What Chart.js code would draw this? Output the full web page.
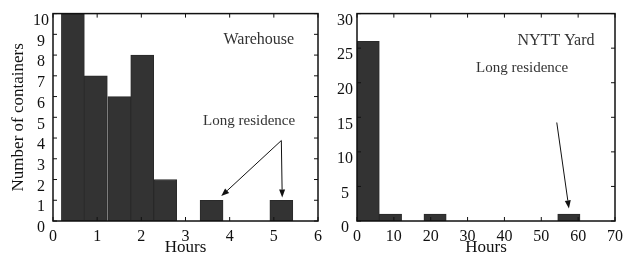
<!DOCTYPE html>
<html>
<head>
<meta charset="utf-8">
<script src="https://cdn.jsdelivr.net/npm/chart.js@4"></script>
<style>
html, body { margin: 0; padding: 0; background: #fff; }
#wrap { position: relative; width: 629px; height: 256px; }
#warehouse { position: absolute; left: 0; top: 0; }
#yard { position: absolute; left: 328px; top: 0; }
</style>
</head>
<body>
<div id="wrap">
<canvas id="warehouse" width="328" height="256"></canvas>
<canvas id="yard" width="301" height="256"></canvas>
</div>
<script>
// histogram bin centres (hours) and counts
const warehouseHours = [0.45, 0.97, 1.50, 2.02, 2.54, 3.07, 3.59, 4.12, 4.64, 5.17];
const warehouseCounts = [10, 7, 6, 8, 2, 0, 1, 0, 0, 1];
const yardHours = [3.03, 9.08, 15.13, 21.18, 27.23, 33.28, 39.33, 45.38, 51.43, 57.48];
const yardCounts = [26, 1, 0, 1, 0, 0, 0, 0, 0, 1];

const FONT = 'Liberation Serif, Times New Roman, serif';
const BAR_FILL = '#333333';
const BAR_EDGE = '#2a2a2a';

// in-plot labels and arrows, in data units
const warehouseNotes = [
    { text: 'Warehouse', x: 4.66, y: 8.76 },
    { text: 'Long residence', x: 4.44, y: 4.83 },
];
const warehouseArrows = [
    { from: [5.17, 3.88], to: [3.81, 1.20] },
    { from: [5.17, 3.88], to: [5.19, 1.13] },
];
const yardNotes = [
    { text: 'NYTT Yard', x: 54.0, y: 26.1 },
    { text: 'Long residence', x: 44.8, y: 22.1 },
];
const yardArrows = [
    { from: [54.2, 14.25], to: [57.5, 1.82] },
];

function line(ctx, x1, y1, x2, y2) {
    ctx.beginPath();
    ctx.moveTo(x1, y1);
    ctx.lineTo(x2, y2);
    ctx.stroke();
}

const framePlugin = {
    id: 'frame',
    afterDatasetsDraw(chart, args, opts) {
        const { ctx, chartArea: a, scales: { x, y } } = chart;
        ctx.save();
        ctx.strokeStyle = '#111';
        ctx.lineWidth = 1.5;
        ctx.strokeRect(a.left, a.top, a.right - a.left, a.bottom - a.top);

        // inward ticks on all four sides
        ctx.lineWidth = 1;
        x.ticks.forEach(t => {
            const px = x.getPixelForValue(t.value);
            line(ctx, px, a.bottom, px, a.bottom - 4);
            line(ctx, px, a.top, px, a.top + 4);
        });
        y.ticks.forEach(t => {
            const py = y.getPixelForValue(t.value);
            line(ctx, a.left, py, a.left + 4, py);
            line(ctx, a.right, py, a.right - 4, py);
        });

        ctx.fillStyle = '#333';
        ctx.textAlign = 'center';
        ctx.textBaseline = 'middle';
        (opts.notes || []).forEach(n => {
            ctx.font = (n.text === 'Long residence' ? '15px ' : '16px ') + FONT;
            ctx.fillText(n.text, x.getPixelForValue(n.x), y.getPixelForValue(n.y));
        });

        ctx.strokeStyle = '#111';
        ctx.fillStyle = '#111';
        ctx.lineWidth = 1;
        (opts.arrows || []).forEach(ar => {
            const x1 = x.getPixelForValue(ar.from[0]), y1 = y.getPixelForValue(ar.from[1]);
            const x2 = x.getPixelForValue(ar.to[0]), y2 = y.getPixelForValue(ar.to[1]);
            const ang = Math.atan2(y2 - y1, x2 - x1);
            const len = 8, half = 3;
            const bx = x2 - len * Math.cos(ang), by = y2 - len * Math.sin(ang);
            line(ctx, x1, y1, bx, by);
            ctx.beginPath();
            ctx.moveTo(x2, y2);
            ctx.lineTo(bx + half * Math.sin(ang), by - half * Math.cos(ang));
            ctx.lineTo(bx - half * Math.sin(ang), by + half * Math.cos(ang));
            ctx.closePath();
            ctx.fill();
        });
        ctx.restore();
    },
};

function makeHistogram(canvasId, hours, counts, cfg) {
    const ctx = document.getElementById(canvasId);
    return new Chart(ctx, {
        type: 'bar',
        data: {
            datasets: [{
                data: hours.map((h, i) => ({ x: h, y: counts[i] })),
                backgroundColor: BAR_FILL,
                borderColor: BAR_EDGE,
                borderWidth: 1,
                borderSkipped: false,
                barPercentage: 1,
                categoryPercentage: 1,
            }],
        },
        options: {
            responsive: false,
            animation: false,
            events: [],
            layout: { padding: { left: 0, right: cfg.padRight, top: 12, bottom: 0 } },
            scales: {
                x: {
                    type: 'linear',
                    offset: false,
                    min: 0, max: cfg.xMax,
                    ticks: { stepSize: cfg.xStep, autoSkip: false, color: '#111', padding: 6, font: { family: FONT, size: 16 } },
                    grid: { display: false, drawTicks: false, offset: false },
                    border: { display: false },
                    title: { display: true, text: 'Hours', color: '#111', padding: { top: 0, bottom: -2 }, font: { family: FONT, size: 17 } },
                    afterFit: s => { s.height = 35; },
                },
                y: {
                    min: 0, max: cfg.yMax,
                    ticks: { stepSize: cfg.yStep, autoSkip: false, color: '#111', padding: 4, labelOffset: 7, crossAlign: 'center', font: { family: FONT, size: 16 } },
                    grid: { display: false, drawTicks: false },
                    border: { display: false },
                    title: {
                        display: !!cfg.yTitle, text: cfg.yTitle || '', color: '#111',
                        padding: { top: 8, bottom: 0 }, font: { family: FONT, size: 17 },
                    },
                    afterFit: s => { s.width = cfg.yWidth; },
                },
            },
            plugins: {
                legend: { display: false },
                tooltip: { enabled: false },
                frame: { notes: cfg.notes, arrows: cfg.arrows },
            },
        },
        plugins: [framePlugin],
    });
}

makeHistogram('warehouse', warehouseHours, warehouseCounts, {
    xMax: 6, xStep: 1, yMax: 10, yStep: 1, yWidth: 53, padRight: 10,
    yTitle: 'Number of containers', notes: warehouseNotes, arrows: warehouseArrows,
});
makeHistogram('yard', yardHours, yardCounts, {
    xMax: 70, xStep: 10, yMax: 30, yStep: 5, yWidth: 29, padRight: 13,
    notes: yardNotes, arrows: yardArrows,
});
</script>
</body>
</html>
